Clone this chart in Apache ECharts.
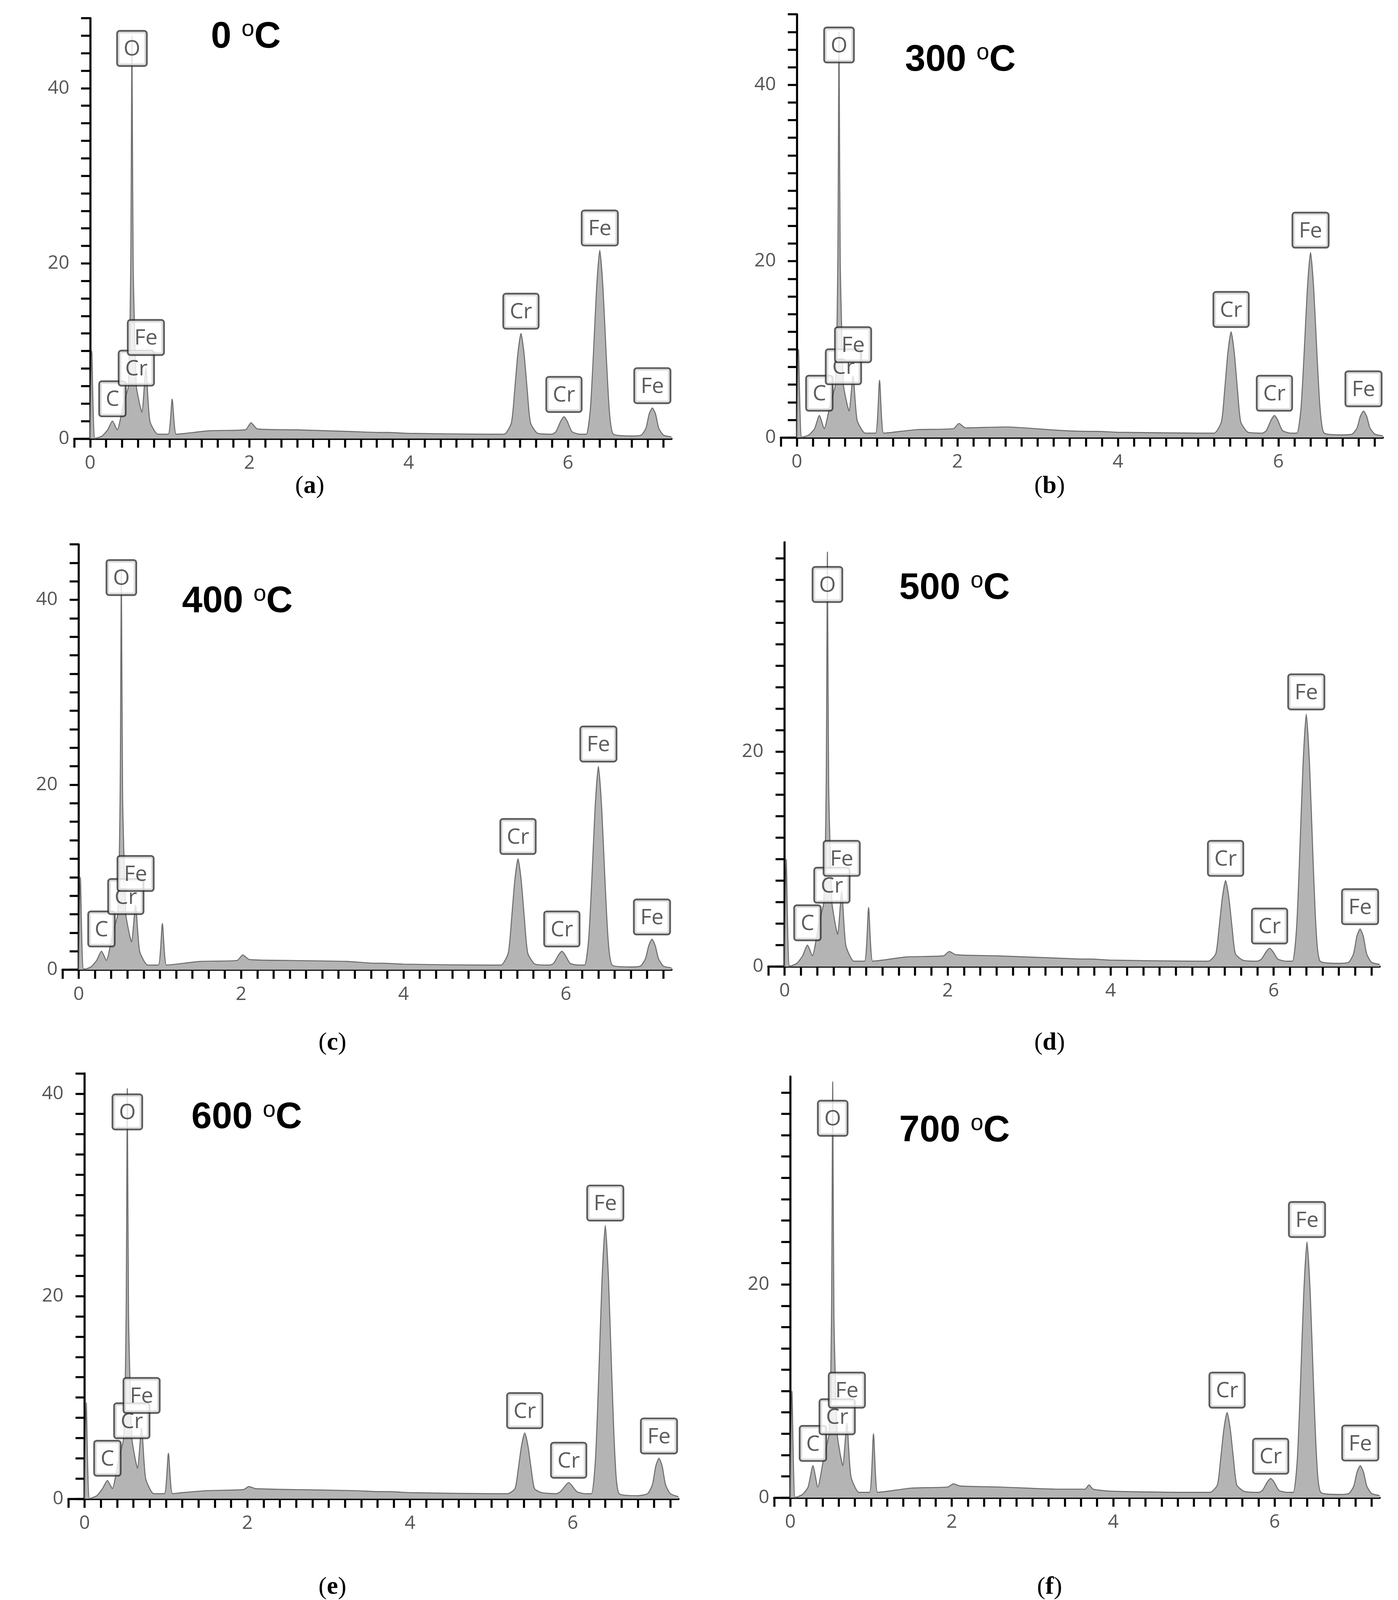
<!DOCTYPE html><html><head><meta charset="utf-8">
<script src="https://cdn.jsdelivr.net/npm/echarts@6/dist/echarts.min.js"></script>
<style>html,body{margin:0;background:#fff;overflow:hidden}#c{width:100vw;height:100vh}</style></head><body><div id="c"></div>
<script>
const energies=[0,0.02,0.06,0.15,0.22,0.28,0.34,0.42,0.48,0.51,0.525,0.54,0.58,0.62,0.65,0.7,0.75,0.85,0.98,1.03,1.08,1.2,1.5,1.95,2.02,2.1,2.6,3.3,3.65,3.7,3.75,4.0,5.0,
 5.2,5.29,5.33,5.37,5.41,5.45,5.49,5.53,5.62,
 5.8,5.85,5.91,5.95,5.99,6.05,6.15,
 6.23,6.28,6.32,6.36,6.4,6.44,6.48,6.52,6.57,
 6.8,6.92,6.98,7.02,7.06,7.1,7.14,7.2,7.3];
const countsA=[0,10,0,0.3,1,2,1,4,6,20,46,20,6,4,3,8,2,0.5,0.5,4.5,0.5,0.6,0.9,1.0,1.8,1.1,1.0,0.8,0.7,0.7,0.7,0.6,0.5,
 0.5,1.8,5.4,9.6,12,9.6,5.4,1.8,0.6, 0.5,0.8,2,2.5,2,0.8,0.5, 0.5,3.2,9.7,17.2,21.5,17.2,9.7,3.2,0.5, 0.3,0.4,1.2,2.8,3.5,2.8,1.2,0.4,0.2];
const countsB=[0,10,0,0.3,1,2.5,1,4,6,20,46,20,6,4,3,7,2,0.5,0.5,6.5,0.5,0.6,0.9,1.0,1.6,1.1,1.2,0.8,0.7,0.7,0.7,0.6,0.5,
 0.5,1.8,5.4,9.6,12,9.6,5.4,1.8,0.6, 0.5,0.8,2,2.5,2,0.8,0.5, 0.5,3.2,9.5,16.8,21,16.8,9.5,3.2,0.5, 0.3,0.4,1.1,2.4,3,2.4,1.1,0.4,0.2];
const countsC=[0,10,0,0.3,1,2,1,4,6,19,43.5,19,6,4,3,7,2,0.5,0.5,5,0.5,0.6,0.9,1.0,1.6,1.1,1.0,0.9,0.7,0.7,0.7,0.6,0.5,
 0.5,1.8,5.4,9.6,12,9.6,5.4,1.8,0.6, 0.5,0.7,1.6,2,1.6,0.7,0.5, 0.5,3.3,9.9,17.6,22,17.6,9.9,3.3,0.5, 0.3,0.4,1.2,2.6,3.3,2.6,1.2,0.4,0.2];
const countsD=[0,10,0,0.3,1,2,1,4,6,17,38.6,17,6,4,3,7,2,0.5,0.5,5.5,0.5,0.6,0.9,1.0,1.4,1.1,1.0,0.8,0.7,0.7,0.7,0.6,0.5,
 0.5,1.2,3.6,6.4,8,6.4,3.6,1.2,0.6, 0.5,0.7,1.4,1.7,1.4,0.7,0.5, 0.5,3.5,10.6,18.8,23.5,18.8,10.6,3.5,0.5, 0.3,0.4,1.2,2.8,3.5,2.8,1.2,0.4,0.2];
const countsE=[0,9.5,0,0.3,1,1.8,1,4,6,18,40.5,18,6,4,3,7,2,0.5,0.5,4.5,0.5,0.6,0.8,0.9,1.2,1.0,0.9,0.8,0.7,0.7,0.7,0.6,0.5,
 0.5,1.0,2.9,5.2,6.5,5.2,2.9,1.0,0.6, 0.5,0.7,1.3,1.6,1.3,0.7,0.5, 0.5,4,12.2,21.6,27,21.6,12.2,4,0.5, 0.3,0.5,1.4,3.2,4,3.2,1.4,0.5,0.2];
const countsF=[0,10,0,0.3,1,3,1,4,6,17,39,17,6,4,3,7,2,0.5,0.5,6,0.5,0.6,0.9,1.0,1.3,1.1,1.0,0.8,0.8,1.2,0.8,0.6,0.5,
 0.5,1.2,3.6,6.4,8,6.4,3.6,1.2,0.6, 0.5,0.7,1.5,1.8,1.5,0.7,0.5, 0.5,3.6,10.8,19.2,24,19.2,10.8,3.6,0.5, 0.3,0.4,1.1,2.4,3,2.4,1.1,0.4,0.2];
const peakLabels=[[0.525,'O'],[0.28,'C'],[0.58,'Cr'],[0.7,'Fe'],[5.41,'Cr'],[5.95,'Cr'],[6.4,'Fe'],[7.06,'Fe']];
const temps=['0','300','400','500','600','700'];
const captions=['a','b','c','d','e','f'];
const yMaxes=[48,48,46,39.5,42,39.5];
const allCounts=[countsA,countsB,countsC,countsD,countsE,countsF];
const grids=[[190,52,1529,1204],[1999,41,1541,1212],[160,1559,1559,1218],[1967,1553,1565,1215],[175,3074,1562,1218],[1982,3083,1550,1206]];
const titlePos=[[540,102],[2317,169],[466,1719],[2302,1681],[490,3197],[2302,3235]];
const capPos=[[793,1393],[2687,1393],[851,2987],[2687,2987],[851,4546],[2687,4546]];
const el=document.getElementById('c');
const sx=el.clientWidth/3579, sy=el.clientHeight/4582, sf=Math.min(sx,sy);
const minorX=[];for(let i=-1;i<=36;i++)minorX.push(+(i*0.2).toFixed(1));
const option={animation:false,grid:[],xAxis:[],yAxis:[],series:[],graphic:[]};
grids.forEach((g,i)=>{
 const ym=yMaxes[i];const minorY=[];for(let v=0;v<=ym;v+=2)minorY.push(v);
 option.grid.push({left:g[0]*sx,top:g[1]*sy,width:g[2]*sx,height:g[3]*sy,outerBoundsMode:'none',containLabel:false});
 option.xAxis.push({type:'value',gridIndex:i,min:-0.2,max:7.3,splitLine:{show:false},
  axisLine:{onZero:false,lineStyle:{color:'#000',width:6*sf}},
  axisTick:{show:true,length:26*sf,customValues:minorX,lineStyle:{color:'#000',width:6*sf}},
  axisLabel:{customValues:[0,2,4,6],color:'#555',fontSize:54*sf,fontFamily:'Open Sans',margin:44*sf}});
 option.yAxis.push({type:'value',gridIndex:i,min:0,max:ym,splitLine:{show:false},
  axisLine:{lineStyle:{color:'#000',width:6*sf}},
  axisTick:{show:true,length:26*sf,customValues:minorY,lineStyle:{color:'#000',width:6*sf}},
  axisLabel:{customValues:[0,20,40].filter(v=>v<ym-1),color:'#555',fontSize:54*sf,fontFamily:'Open Sans',margin:14*sf}});
 const cnt=allCounts[i];
 option.series.push({type:'line',xAxisIndex:i,yAxisIndex:i,symbol:'none',smooth:0.2,
  data:energies.map((e,k)=>[e,cnt[k]]),lineStyle:{color:'#6e6e6e',width:3*sf},areaStyle:{color:'#b4b4b4',opacity:1}});
 option.series.push({type:'scatter',xAxisIndex:i,yAxisIndex:i,symbolSize:0,z:5,
  data:peakLabels.map(([e,t])=>{const k=energies.indexOf(e);let y=cnt[k];if(t==='O')y=Math.min(y,ym-6);
    if(e===0.58)y=5.5;if(e===0.7)y=cnt[k]+1;return {value:[e,y],name:t};}),
  label:{show:true,position:'top',distance:16*sf,formatter:p=>p.name,fontSize:62*sf,fontFamily:'Open Sans',color:'#333',
   backgroundColor:'#fff',borderColor:'#333',borderWidth:5*sf,borderRadius:5*sf,padding:[20*sf,16*sf,14*sf,16*sf]}});
 option.graphic.push({type:'text',left:titlePos[i][0]*sx,top:(titlePos[i][1]-50)*sy,style:{
  text:'{a|'+temps[i]+' }{s|o}{a|C}',rich:{a:{fontSize:105*sf,fontWeight:'bold',fontFamily:'Liberation Sans',fill:'#000'},
  s:{fontSize:66*sf,fontFamily:'Liberation Sans',fill:'#000',verticalAlign:'top',padding:[0,0,44*sf,0]}}}});
 option.graphic.push({type:'text',x:capPos[i][0]*sx,y:capPos[i][1]*sy,style:{
  text:'({b|'+captions[i]+'})',align:'center',verticalAlign:'middle',font:(72*sf)+'px Liberation Serif',fill:'#000',
  rich:{b:{fontSize:72*sf,fontWeight:'bold',fontFamily:'Liberation Serif',fill:'#000'}}}});
});
echarts.init(el).setOption(option);
</script></body></html>
